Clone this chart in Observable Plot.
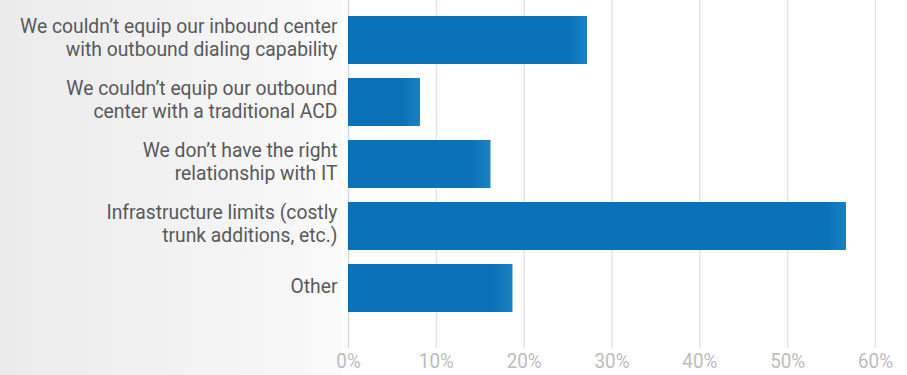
<!DOCTYPE html>
<html>
<head>
<meta charset="utf-8">
<script src="https://cdn.jsdelivr.net/npm/d3@7"></script>
<script src="https://cdn.jsdelivr.net/npm/@observablehq/plot@0.6"></script>
<style>
  html, body { margin: 0; padding: 0; }
  body {
    width: 907px; height: 375px; overflow: hidden;
    background: linear-gradient(to right, #ebebeb 0px, #f2f2f2 180px, #f6f6f6 280px, #fafafa 340px, #ffffff 348px);
  }
  #chart svg { display: block; background: transparent; }
</style>
</head>
<body>
<div id="chart"></div>
<script>
// Reasons given for the obstacle, in display order
const categories = [
  "We couldn’t equip our inbound center\nwith outbound dialing capability",
  "We couldn’t equip our outbound\ncenter with a traditional ACD",
  "We don’t have the right\nrelationship with IT",
  "Infrastructure limits (costly\ntrunk additions, etc.)",
  "Other"
];
// Share of respondents (%)
const values = [27.2, 8.2, 16.2, 56.7, 18.7];
const xTicks = [0, 10, 20, 30, 40, 50, 60];

const data = categories.map((c, i) => ({category: c, value: values[i]}));

// A soft highlight over the right end of each bar
const endLength = 4;

const defs = () => {
  const g = d3.create("svg:defs");
  const lg = g.append("linearGradient").attr("id", "barEnd")
    .attr("x1", "0").attr("x2", "1").attr("y1", "0").attr("y2", "0");
  lg.append("stop").attr("offset", "0").attr("stop-color", "#0a72b8").attr("stop-opacity", 0);
  lg.append("stop").attr("offset", "0.45").attr("stop-color", "#0972b7").attr("stop-opacity", 1);
  lg.append("stop").attr("offset", "1").attr("stop-color", "#1a82c2").attr("stop-opacity", 1);
  return g.node();
};

// Narrow the glyphs of a text mark, keeping each label anchored where Plot put it
const narrow = (k) => (index, scales, values, dims, context, next) => {
  const g = next(index, scales, values, dims, context);
  d3.select(g).selectAll("text").each(function() {
    const t = this.getAttribute("transform") || "";
    this.setAttribute("transform", t + ` scale(${k},1)`);
  });
  return g;
};

const chart = Plot.plot({
  width: 907,
  height: 375,
  marginLeft: 348,
  marginRight: 32,
  marginTop: 0,
  marginBottom: 27,
  style: {background: "transparent", fontFamily: "Roboto, sans-serif"},
  x: {domain: [0, 60], ticks: xTicks, label: null},
  y: {domain: categories, padding: 0.23, insetBottom: 20, label: null},
  marks: [
    defs,
    Plot.ruleX(xTicks.slice(1), {stroke: "#e6e6e6", strokeWidth: 1.6}),
    Plot.ruleX([0], {stroke: "#dcdcdc", strokeWidth: 1.6}),
    Plot.ruleY([0], {frameAnchor: "bottom", stroke: "#e6e6e6", strokeWidth: 1.6}),
    Plot.barX(data, {y: "category", x: "value", fill: "#0a72b8"}),
    Plot.barX(data, {y: "category", x1: d => Math.max(0, d.value - endLength), x2: "value", fill: "url(#barEnd)"}),
    Plot.axisX({
      ticks: xTicks, tickSize: 0, tickPadding: 5, fontSize: 21,
      tickFormat: d => d + "%", color: "#bdbdbd", label: null,
      render: narrow(0.9)
    }),
    Plot.axisY({
      tickSize: 0, tickPadding: 11, fontSize: 21, lineHeight: 1.1, dy: -3,
      color: "#58595b", label: null,
      render: narrow(0.92)
    })
  ]
});

document.getElementById("chart").appendChild(chart);
</script>
</body>
</html>
